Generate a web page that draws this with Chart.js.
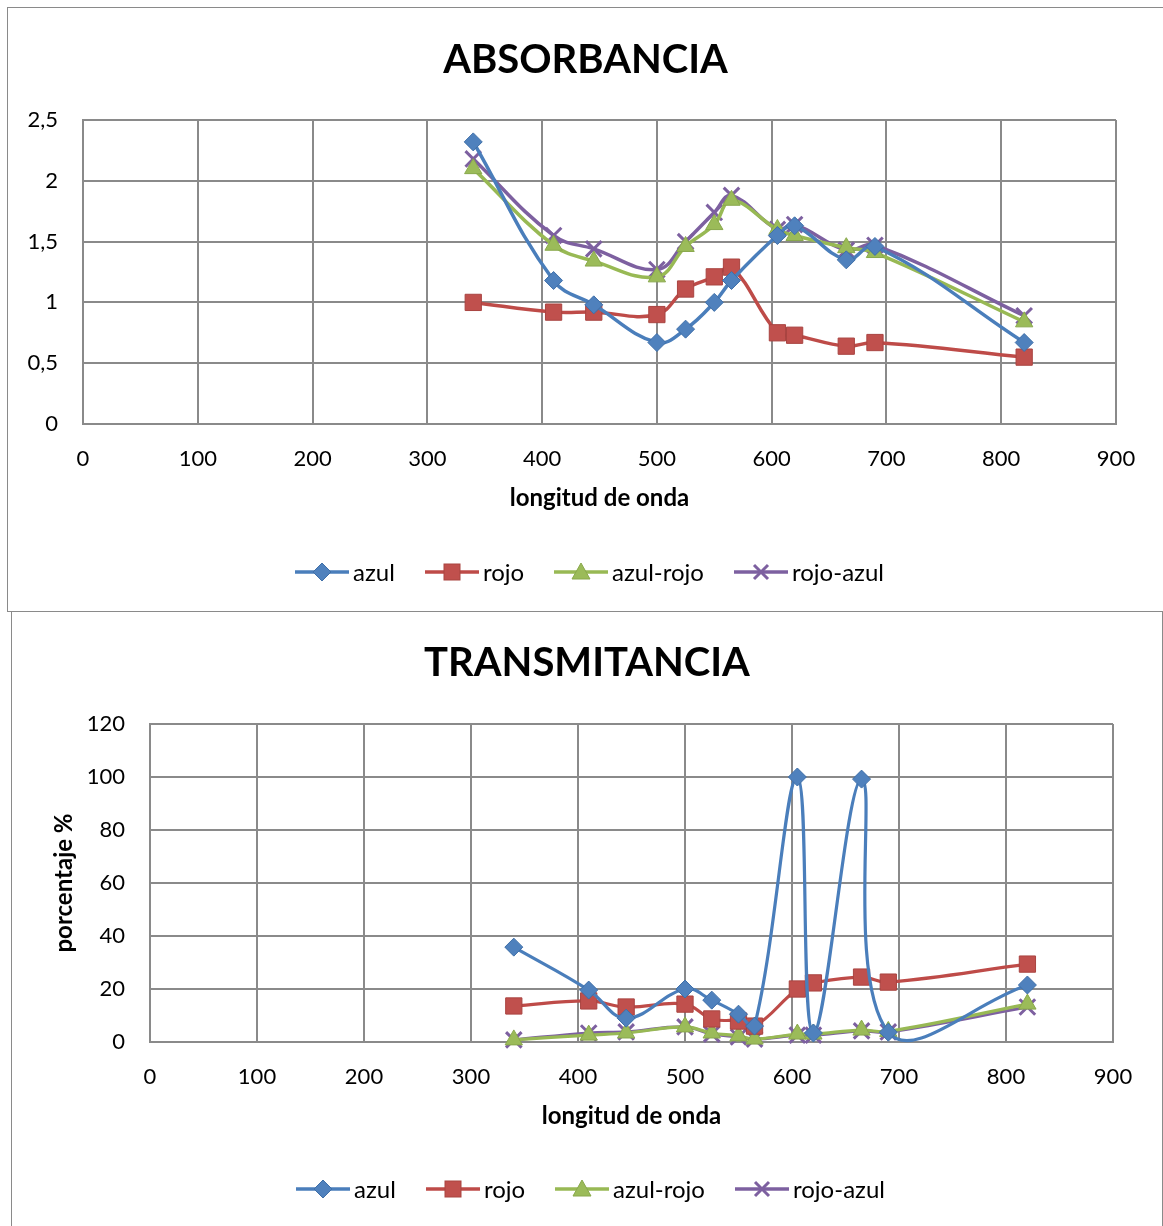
<!DOCTYPE html>
<html>
<head>
<meta charset="utf-8">
<script src="https://cdn.jsdelivr.net/npm/chart.js@4.4.0/dist/chart.umd.min.js"></script>
<style>
body { margin: 0; background: #fff; font-family: Lato, sans-serif; overflow: hidden; }
.box { position: absolute; border: 1px solid #8a8a8a; background: #fff; }
#boxAbs { left: 7px; top: 7px; width: 1170px; height: 603px; }
#boxTr { left: 11px; top: 611px; width: 1150px; height: 630px; box-shadow: 1px 0 0 #d0d0d0; }
canvas { position: absolute; left: 0; top: 0; }
.leg { position: absolute; height: 24px; white-space: nowrap; }
.leg svg { position: absolute; left: 0; top: 0; }
.leg span { position: absolute; left: 58px; top: -3px; font-size: 24px; line-height: 29px; color: #000; }
</style>
</head>
<body>
<div class="box" id="boxAbs">
  <canvas id="chartAbs" width="1155" height="603"></canvas>
  <div id="legAbs"></div>
</div>
<div class="box" id="boxTr">
  <canvas id="chartTr" width="1150" height="614"></canvas>
  <div id="legTr"></div>
</div>
<script>
// longitud de onda (nm)
var longitudes = [340, 410, 445, 500, 525, 550, 565, 605, 620, 665, 690, 820];

// absorbancia
var absAzul     = [2.32, 1.18, 0.98, 0.67, 0.78, 1.00, 1.18, 1.55, 1.63, 1.35, 1.46, 0.67];
var absRojo     = [1.00, 0.92, 0.92, 0.90, 1.11, 1.21, 1.29, 0.75, 0.73, 0.64, 0.67, 0.55];
var absAzulRojo = [2.10, 1.47, 1.34, 1.21, 1.46, 1.64, 1.84, 1.60, 1.55, 1.45, 1.41, 0.84];
var absRojoAzul = [2.18, 1.55, 1.44, 1.27, 1.50, 1.74, 1.88, 1.60, 1.64, 1.43, 1.47, 0.89];

// transmitancia (%)
var trAzul      = [35.8, 19.6, 9.0, 20.0, 15.8, 10.5, 6.0, 100, 3.4, 99.2, 3.7, 21.5];
var trRojo      = [13.6, 15.5, 13.2, 14.3, 8.7, 7.9, 6.0, 20.0, 22.3, 24.5, 22.6, 29.4];
var trAzulRojo  = [0.8, 2.6, 3.4, 5.7, 3.4, 2.3, 1.1, 3.0, 3.0, 4.5, 4.0, 14.3];
var trRojoAzul  = [0.8, 3.4, 3.8, 5.7, 3.0, 1.9, 1.1, 2.6, 2.6, 4.2, 3.8, 13.2];

var serieNames = ["azul", "rojo", "azul-rojo", "rojo-azul"];
var xTicks   = ["0", "100", "200", "300", "400", "500", "600", "700", "800", "900"];
var absTicks = ["0", "0,5", "1", "1,5", "2", "2,5"];
var trTicks  = ["0", "20", "40", "60", "80", "100", "120"];

var estilos = [
  {line: "#4a7ebb", fill: "#4f81bd", edge: "#3f6fa8", shape: "rectRot", r: 9, bw: 1},
  {line: "#be4b48", fill: "#c0504d", edge: "#a94441", shape: "rect", r: 11.5, bw: 1},
  {line: "#98b954", fill: "#9bbb59", edge: "#89a84c", shape: "triangle", r: 10, bw: 1},
  {line: "#7d60a0", fill: "#8064a2", edge: "#7d60a0", shape: "crossRot", r: 11, bw: 3}
];

Chart.defaults.font.family = "Lato";
Chart.defaults.color = "#000";

function puntos(vals) {
  return longitudes.map(function(x, i) { return {x: x, y: vals[i]}; });
}

function dataset(i, vals, lw) {
  var e = estilos[i];
  return {
    label: serieNames[i],
    data: puntos(vals),
    borderColor: e.line,
    backgroundColor: e.fill,
    borderWidth: lw,
    pointStyle: e.shape,
    pointRadius: e.r,
    pointHoverRadius: e.r,
    pointBackgroundColor: e.fill,
    pointBorderColor: e.edge,
    pointBorderWidth: e.bw,
    tension: 0.4,
    capBezierPoints: false,
    clip: false
  };
}

var gridColor = "#8a8a8a";

function hacerGrafico(id, titulo, series, yMax, yStep, yLabels, yTitle, lay) {
  var yScale = {
    min: 0, max: yMax,
    ticks: {
      stepSize: yStep, padding: 25, font: {size: 22},
      callback: function(v, idx) { return yLabels[idx]; }
    },
    grid: {color: gridColor, lineWidth: 2, drawTicks: false},
    border: {color: gridColor, width: 2},
    afterFit: function(s) { s.width = lay.yWidth; }
  };
  if (yTitle) {
    yScale.title = {display: true, text: yTitle, font: {size: 24, weight: "bold"}, padding: {top: lay.yTitlePad, bottom: 0}};
  }
  return new Chart(document.getElementById(id), {
    type: "line",
    data: {datasets: series.map(function(v, i) { return dataset(i, v, lay.lw); })},
    options: {
      responsive: false,
      animation: false,
      layout: {padding: {left: 0, right: 0, top: 0, bottom: lay.bottom}},
      plugins: {
        legend: {display: false},
        tooltip: {enabled: false},
        title: {display: true, text: titulo, font: {size: 40, weight: "bold"}, padding: {top: lay.titleTop, bottom: lay.titleBottom}}
      },
      scales: {
        x: {
          type: "linear", min: 0, max: 900,
          ticks: {
            stepSize: 100, padding: 22, font: {size: 22}, maxRotation: 0,
            callback: function(v, idx) { return xTicks[idx]; }
          },
          grid: {color: gridColor, lineWidth: 2, drawTicks: false},
          border: {color: gridColor, width: 2},
          title: {display: true, text: "longitud de onda", font: {size: 24, weight: "bold"}, padding: 0},
          afterFit: function(s) { s.height = 88.4; }
        },
        y: yScale,
        // margen derecho vacio (el titulo queda centrado en todo el ancho)
        margen: {
          position: "right", display: true,
          grid: {display: false}, border: {display: false}, ticks: {display: false},
          afterFit: function(s) { s.width = lay.right; }
        }
      }
    }
  });
}

function leyenda(lefts) {
  var html = "";
  for (var i = 0; i < serieNames.length; i++) {
    var e = estilos[i];
    var m = "";
    if (e.shape === "rectRot") m = '<polygon points="27,3 36,12 27,21 18,12" fill="' + e.fill + '" stroke="' + e.edge + '"/>';
    if (e.shape === "rect") m = '<rect x="19" y="4" width="16" height="16" fill="' + e.fill + '" stroke="' + e.edge + '"/>';
    if (e.shape === "triangle") m = '<polygon points="27,3 36,19 18,19" fill="' + e.fill + '" stroke="' + e.edge + '"/>';
    if (e.shape === "crossRot") m = '<path d="M20,5 L34,19 M34,5 L20,19" stroke="' + e.line + '" stroke-width="3"/>';
    html += '<div class="leg" style="left:' + lefts[i] + 'px;top:0">' +
      '<svg width="54" height="24"><line x1="0" y1="12" x2="54" y2="12" stroke="' + e.line + '" stroke-width="3.5"/>' + m + '</svg>' +
      '<span>' + serieNames[i] + '</span></div>';
  }
  return html;
}

hacerGrafico("chartAbs", "ABSORBANCIA", [absAzul, absRojo, absAzulRojo, absRojoAzul], 2.5, 0.5, absTicks, null,
  {yWidth: 75, right: 47, bottom: 98.6, titleTop: 28, titleBottom: 36, lw: 3.5});
hacerGrafico("chartTr", "TRANSMITANCIA", [trAzul, trRojo, trAzulRojo, trRojoAzul], 120, 20, trTicks, "porcentaje %",
  {yWidth: 138, right: 49, bottom: 95.6, titleTop: 27, titleBottom: 37, yTitlePad: 37.6, lw: 3.2});

var legA = document.getElementById("legAbs");
legA.style.position = "absolute"; legA.style.left = "0"; legA.style.top = (572 - 8 - 12) + "px";
legA.innerHTML = leyenda([295 - 8, 425 - 8, 554 - 8, 734 - 8]);
var legT = document.getElementById("legTr");
legT.style.position = "absolute"; legT.style.left = "0"; legT.style.top = (1189 - 612 - 12) + "px";
legT.innerHTML = leyenda([296 - 12, 426 - 12, 555 - 12, 735 - 12]);
</script>
</body>
</html>
